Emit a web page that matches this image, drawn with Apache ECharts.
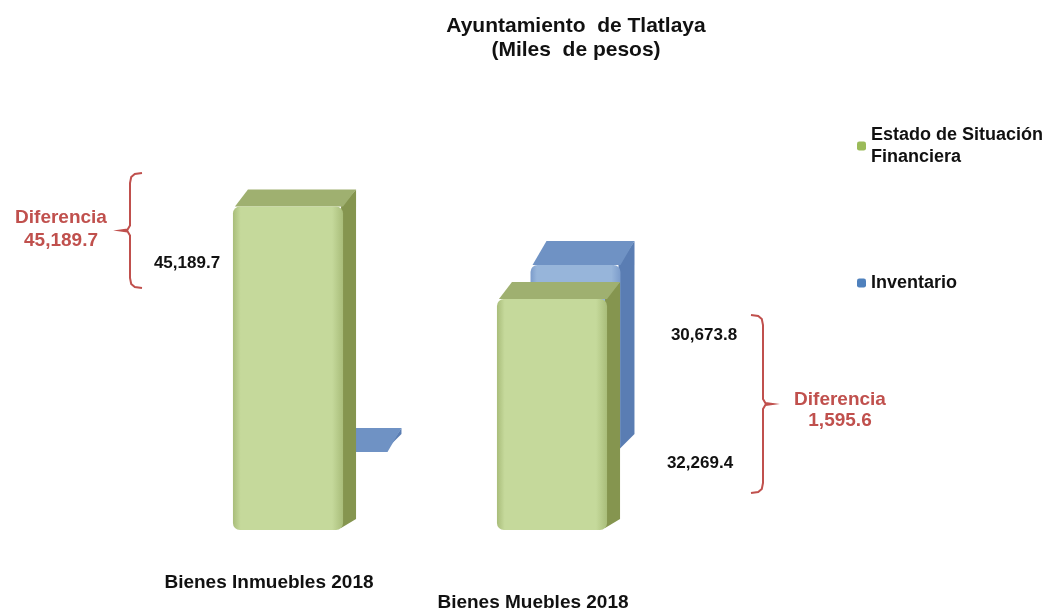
<!DOCTYPE html>
<html>
<head>
<meta charset="utf-8">
<script src="https://cdn.jsdelivr.net/npm/echarts@6/dist/echarts.min.js"></script>
<style>
  html, body { margin: 0; padding: 0; background: #fff; }
  #chart { width: 1056px; height: 609px; }
</style>
</head>
<body>
<div id="chart"></div>
<script>
// datos de la grafica
const categorias = ['Bienes Inmuebles 2018', 'Bienes Muebles 2018']
const estadoSituacion = [45189.7, 32269.4]
const inventario = [0, 30673.8]
const nombresSeries = ['Estado de Situación\nFinanciera', 'Inventario']

const rojo = '#c0504d'
const fuente = '"Liberation Sans", Arial, sans-serif'
const fmt = (v) => v.toLocaleString('en-US', { minimumFractionDigits: 1, maximumFractionDigits: 1 })

// caja "3D": cara frontal + cara superior + lateral
function cajaRender(colores, ratio, dx, dy) {
  return function (params, api) {
    const cat = api.value(0)
    const val = api.value(1)
    const base = api.coord([cat, 0])
    const top = api.coord([cat, val])
    const w = api.size([1, 0])[0] * ratio
    const x0 = base[0] - w / 2
    const x1 = base[0] + w / 2
    const yT = top[1]
    const yB = base[1]
    return {
      type: 'group',
      children: [
        {
          type: 'polygon',
          shape: { points: [[x1 - 2, yT], [x1 + dx, yT - dy], [x1 + dx, yB - dy + 6], [x1 - 2, yB - 2]] },
          style: { fill: colores.lado },
        },
        {
          type: 'polygon',
          shape: { points: [[x0 + 2, yT], [x0 + dx + 2, yT - dy], [x1 + dx, yT - dy], [x1, yT]] },
          style: { fill: colores.arriba },
        },
        {
          type: 'rect',
          shape: { x: x0, y: yT, width: w, height: yB - yT, r: 7 },
          style: {
            fill: new echarts.graphic.LinearGradient(0, 0, 1, 0, [
              { offset: 0, color: colores.borde },
              { offset: 0.07, color: colores.frente },
              { offset: 0.9, color: colores.frente },
              { offset: 1, color: colores.borde },
            ]),
          },
        },
      ],
    }
  }
}

// llave (corchete) en polilinea
function llave(x, y0, y1, dir) {
  const ym = (y0 + y1) / 2
  const h = 12 * dir
  return [
    [x + h, y0], [x + h * 0.4, y0 + 1], [x + h * 0.1, y0 + 4], [x, y0 + 10],
    [x, ym - 5], [x - h * 0.2, ym - 1], [x - h * 0.8, ym],
    [x - h * 0.2, ym + 1], [x, ym + 5],
    [x, y1 - 10], [x + h * 0.1, y1 - 4], [x + h * 0.4, y1 - 1], [x + h, y1],
  ]
}

const verde = { frente: '#c5d99b', borde: '#a9bd7a', arriba: '#9fb070', lado: '#85954f' }
const azul = { frente: '#97b5da', borde: '#7c9ccb', arriba: '#6f92c4', lado: '#5a7db3' }

const chart = echarts.init(document.getElementById('chart'))

const option = {
  backgroundColor: '#fff',
  animation: false,
  title: {
    text: 'Ayuntamiento  de Tlatlaya\n(Miles  de pesos)',
    left: 571,
    top: 9,
    textAlign: 'center',
    textStyle: { fontFamily: fuente, fontSize: 21, fontWeight: 'bold', color: '#111', lineHeight: 24, align: 'center' },
  },
  legend: {
    orient: 'vertical',
    left: 852,
    top: 119,
    itemGap: 104,
    itemWidth: 9,
    itemHeight: 9,
    data: nombresSeries,
    textStyle: { fontFamily: fuente, fontSize: 18, fontWeight: 'bold', color: '#111', lineHeight: 22 },
  },
  grid: [
    { left: 156, width: 528, top: 172, height: 358, outerBoundsMode: 'none' },
    { left: 226, width: 466, top: 147, height: 305, outerBoundsMode: 'none' },
  ],
  xAxis: [
    {
      type: 'category',
      gridIndex: 0,
      data: categorias,
      axisLine: { show: false },
      axisTick: { show: false },
      axisLabel: {
        interval: 0,
        margin: 43,
        padding: [0, 38, 0, 0],
        fontFamily: fuente,
        fontSize: 19,
        fontWeight: 'bold',
        color: '#111',
        lineHeight: 20,
        formatter: (v, i) => (i === 1 ? '\n' + v : v),
      },
    },
    {
      type: 'category',
      gridIndex: 1,
      data: categorias,
      show: false,
    },
  ],
  yAxis: [
    { type: 'value', gridIndex: 0, min: 0, max: 50000, show: false, splitLine: { show: false } },
    { type: 'value', gridIndex: 1, min: 0, max: 50000, show: false, splitLine: { show: false } },
  ],
  series: [
    {
      name: nombresSeries[1],
      type: 'custom',
      xAxisIndex: 1,
      yAxisIndex: 1,
      z: 1,
      itemStyle: { color: '#4f81bd' },
      renderItem: cajaRender(azul, 0.386, 14, 24),
      data: inventario.map((v, i) => [i, v]),
    },
    {
      name: nombresSeries[0],
      type: 'custom',
      xAxisIndex: 0,
      yAxisIndex: 0,
      z: 2,
      itemStyle: { color: '#9bbb59' },
      renderItem: cajaRender(verde, 0.417, 13, 17),
      data: estadoSituacion.map((v, i) => [i, v]),
    },
  ],
  graphic: [
    {
      type: 'polyline',
      shape: { points: llave(130, 173, 288, 1) },
      style: { stroke: rojo, lineWidth: 2, fill: null },
    },
    {
      type: 'polyline',
      shape: { points: llave(763, 315, 493, -1) },
      style: { stroke: rojo, lineWidth: 2, fill: null },
    },
    {
      type: 'text',
      style: {
        text: 'Diferencia\n' + fmt(estadoSituacion[0] - inventario[0]),
        x: 61, y: 229, align: 'center', verticalAlign: 'middle',
        font: 'bold 19px ' + fuente, fill: rojo, lineHeight: 23,
      },
    },
    {
      type: 'text',
      style: {
        text: 'Diferencia\n' + fmt(estadoSituacion[1] - inventario[1]),
        x: 840, y: 410, align: 'center', verticalAlign: 'middle',
        font: 'bold 19px ' + fuente, fill: rojo, lineHeight: 21,
      },
    },
    {
      type: 'text',
      style: { text: fmt(estadoSituacion[0]), x: 187, y: 263, align: 'center', verticalAlign: 'middle', font: 'bold 17px ' + fuente, fill: '#111' },
    },
    {
      type: 'text',
      style: { text: fmt(inventario[1]), x: 704, y: 335, align: 'center', verticalAlign: 'middle', font: 'bold 17px ' + fuente, fill: '#111' },
    },
    {
      type: 'text',
      style: { text: fmt(estadoSituacion[1]), x: 700, y: 463, align: 'center', verticalAlign: 'middle', font: 'bold 17px ' + fuente, fill: '#111' },
    },
  ],
}

chart.setOption(option)
</script>
</body>
</html>
